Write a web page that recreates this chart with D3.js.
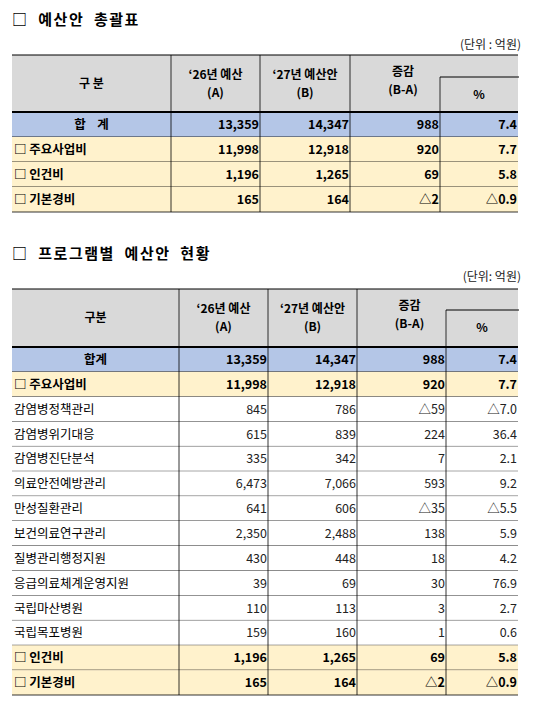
<!DOCTYPE html>
<html><head><meta charset="utf-8">
<script src="https://cdn.jsdelivr.net/npm/d3@7"></script>
<style>body{margin:0;background:#fff}text{font-family:"Noto Sans CJK KR","Noto Sans",sans-serif;white-space:pre}</style>
</head><body>
<svg id="c" width="536" height="710"></svg>
<script>
// table 1
const t1Labels = ["합    계", "□ 주요사업비", "□ 인건비", "□ 기본경비"]
const t1Prev = ["13,359", "11,998", "1,196", "165"]
const t1Next = ["14,347", "12,918", "1,265", "164"]
const t1Diff = ["988", "920", "69", "△2"]
const t1Pct = ["7.4", "7.7", "5.8", "△0.9"]
const t1Kind = ["total", "major", "major", "major"]
// table 2
const t2Labels = ["합계", "□ 주요사업비", "감염병정책관리", "감염병위기대응", "감염병진단분석", "의료안전예방관리",
  "만성질환관리", "보건의료연구관리", "질병관리행정지원", "응급의료체계운영지원", "국립마산병원", "국립목포병원",
  "□ 인건비", "□ 기본경비"]
const t2Prev = ["13,359", "11,998", "845", "615", "335", "6,473", "641", "2,350", "430", "39", "110", "159", "1,196", "165"]
const t2Next = ["14,347", "12,918", "786", "839", "342", "7,066", "606", "2,488", "448", "69", "113", "160", "1,265", "164"]
const t2Diff = ["988", "920", "△59", "224", "7", "593", "△35", "138", "18", "30", "3", "1", "69", "△2"]
const t2Pct = ["7.4", "7.7", "△7.0", "36.4", "2.1", "9.2", "△5.5", "5.9", "4.2", "76.9", "2.7", "0.6", "5.8", "△0.9"]
const t2Kind = ["total", "major", "", "", "", "", "", "", "", "", "", "", "major", "major"]

const svg = d3.select("#c")
const fill = {total: "#b4c6e7", major: "#fff2cc", "": "#fff"}

function table(o) {
  const g = svg.append("g")
  g.append("text").attr("x", 12).attr("y", o.titleY).attr("font-size", 15).attr("font-weight", "bold")
    .attr("letter-spacing", 1.5).text(o.title)
  g.append("text").attr("x", 521).attr("y", o.unitY).attr("font-size", 12).attr("text-anchor", "end")
    .attr("fill", "#222").text(o.unit)
  const xs = o.cols
  const left = xs[0], right = xs[xs.length - 1]
  const y = d3.scaleBand().domain(d3.range(o.labels.length)).range([o.headBottom, o.bottom])
  // header
  g.append("rect").attr("x", left).attr("y", o.headTop).attr("width", right - left)
    .attr("height", o.headBottom - o.headTop).attr("fill", "#d9d9d9")
  const heads = [["구 분"], ["‘26년 예산", "(A)"], ["‘27년 예산안", "(B)"], ["증감", "(B-A)"]]
  if (o.id == 2) heads[0] = ["구분"]
  const hm = (o.headTop + o.headBottom) / 2
  heads.forEach((h, i) => {
    const cx = i == 3 ? (xs[3] + xs[4]) / 2 + 8 : (xs[i] + xs[i + 1]) / 2
    const y0 = h.length == 1 ? hm + 4 : (i == 3 ? hm - 8 : hm - 5)
    h.forEach((s, j) => g.append("text").attr("x", cx).attr("y", y0 + j * 18).attr("font-size", 12)
      .attr("font-weight", "bold").attr("text-anchor", "middle").text(s))
  })
  g.append("text").attr("x", (xs[4] + right) / 2).attr("y", o.pctY + 22).attr("font-size", 12)
    .attr("font-weight", "bold").attr("text-anchor", "middle").text("%")
  g.append("line").attr("x1", xs[4]).attr("x2", right + 1).attr("y1", o.pctY).attr("y2", o.pctY)
    .attr("stroke", "#000")
  // rows
  const cells = [o.prev, o.next, o.diff, o.pct]
  o.labels.forEach((lab, i) => {
    const k = o.kind[i], bold = k != ""
    g.append("rect").attr("x", left).attr("y", y(i)).attr("width", right - left)
      .attr("height", y.bandwidth()).attr("fill", fill[k])
    const ty = y(i) + y.bandwidth() / 2 + 4.5
    g.append("text").attr("x", k == "total" ? (xs[0] + xs[1]) / 2 : left + 2).attr("y", ty)
      .attr("text-anchor", k == "total" ? "middle" : "start").attr("font-size", 12.5)
      .attr("font-weight", bold ? "bold" : "normal").text(lab)
    cells.forEach((arr, c) => g.append("text").attr("x", xs[c + 2] - 1).attr("y", ty)
      .attr("text-anchor", "end").attr("font-size", 12.5).attr("font-weight", bold ? "bold" : "normal")
      .attr("fill", bold ? "#000" : "#222").text(arr[i]))
    g.append("line").attr("x1", left).attr("x2", right).attr("y1", y(i) + y.bandwidth())
      .attr("y2", y(i) + y.bandwidth()).attr("stroke", "#000").attr("stroke-width", 0.8)
  })
  // grid lines
  g.append("line").attr("x1", left).attr("x2", right).attr("y1", o.headTop).attr("y2", o.headTop)
    .attr("stroke", "#000").attr("stroke-width", 1.2)
  g.append("line").attr("x1", left).attr("x2", right).attr("y1", o.headBottom).attr("y2", o.headBottom)
    .attr("stroke", "#000").attr("stroke-width", 2)
  xs.slice(1, 4).forEach(x => g.append("line").attr("x1", x).attr("x2", x).attr("y1", o.headTop)
    .attr("y2", o.bottom).attr("stroke", "#000").attr("stroke-width", 0.8))
  g.append("line").attr("x1", xs[4]).attr("x2", xs[4]).attr("y1", o.pctY).attr("y2", o.bottom)
    .attr("stroke", "#000").attr("stroke-width", 0.8)
}

table({id: 1, title: "□  예산안  총괄표", titleY: 25, unit: "(단위 : 억원)", unitY: 49,
  cols: [12, 171, 260, 350, 440, 518], headTop: 55, headBottom: 112, pctY: 77, bottom: 212,
  labels: t1Labels, prev: t1Prev, next: t1Next, diff: t1Diff, pct: t1Pct, kind: t1Kind})
table({id: 2, title: "□  프로그램별  예산안  현황", titleY: 259, unit: "(단위: 억원)", unitY: 281,
  cols: [12, 179, 268, 357, 446, 518], headTop: 289, headBottom: 347, pctY: 310, bottom: 695,
  labels: t2Labels, prev: t2Prev, next: t2Next, diff: t2Diff, pct: t2Pct, kind: t2Kind})
</script>
</body></html>
